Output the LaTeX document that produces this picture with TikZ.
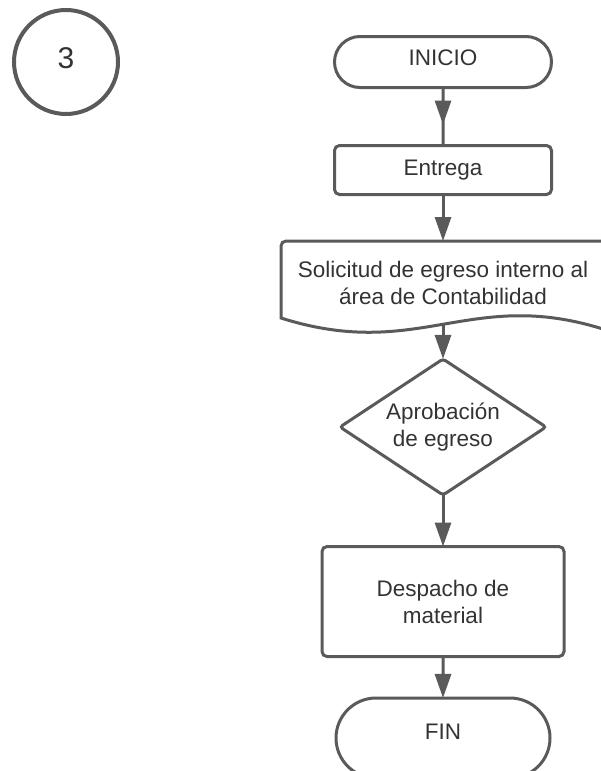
\documentclass[tikz,border=0pt]{standalone}
\usepackage{fontspec}
\setmainfont{Liberation Sans}
\usetikzlibrary{shapes.geometric,shapes.misc,arrows.meta,decorations.markings}
\definecolor{ln}{HTML}{5A5A5A}
\definecolor{tx}{HTML}{333333}
\begin{document}
\begin{tikzpicture}[x=1pt,y=-1pt,
  base/.style={draw=ln, line width=3pt, text=tx, inner sep=0pt, outer sep=0pt,
    align=center, font=\fontsize{22.5}{27}\selectfont},
  term/.style={base, rounded rectangle},
  procbox/.style={base, rectangle, rounded corners=5pt},
  decbox/.style={base, diamond, shape aspect=1.5, rounded corners=3pt},
  conn/.style={draw=ln, line width=3pt},
  arr/.style={-{Triangle[length=24pt,width=16pt]}},
  midarr/.style={postaction={decorate},
    decoration={markings, mark=at position #1 with {\arrow[ln]{Triangle[length=24pt,width=16pt]}}}}
]
\path[use as bounding box, clip] (0,0) rectangle (601,771);

% page number circle
\node[base, circle, line width=4pt, minimum size=104pt, font=\fontsize{30}{30}\selectfont] (num) at (66,62) {\raisebox{7pt}{3}};

% flow
\node[term, minimum width=217pt, minimum height=51pt] (ini) at (443,62) {\raisebox{8pt}{INICIO}};
\node[procbox, minimum width=217pt, minimum height=49pt] (ent) at (443,170) {Entrega};

% document shape
\draw[draw=ln, line width=3pt, fill=white] (281,318) [rounded corners=5pt] -- (281,241) -- (606,241) [sharp corners] -- (606,330)
  .. controls (470,286) and (420,362) .. cycle;
\node[base, draw=none] (doc) at (443,283) {Solicitud de egreso interno al\\área de Contabilidad};
\coordinate (doctop) at (443,241);
\coordinate (docbot) at (443,324);

\node[decbox, minimum width=206pt, minimum height=136pt] (dia) at (443,427) {Aprobación\\de egreso};
\node[procbox, minimum width=242pt, minimum height=110pt] (des) at (443,601.5) {Despacho de\\material};
\node[term, minimum width=214pt, minimum height=80pt] (fin) at (443,738) {\raisebox{12pt}{FIN}};

% connectors
\draw[conn, midarr=37pt] (ini) -- (ent);
\draw[conn, arr] (ent) -- (doctop);
\draw[conn, arr] (docbot) -- (dia);
\draw[conn, arr] (dia) -- (des);
\draw[conn, arr] (des) -- (fin);
\end{tikzpicture}
\end{document}
